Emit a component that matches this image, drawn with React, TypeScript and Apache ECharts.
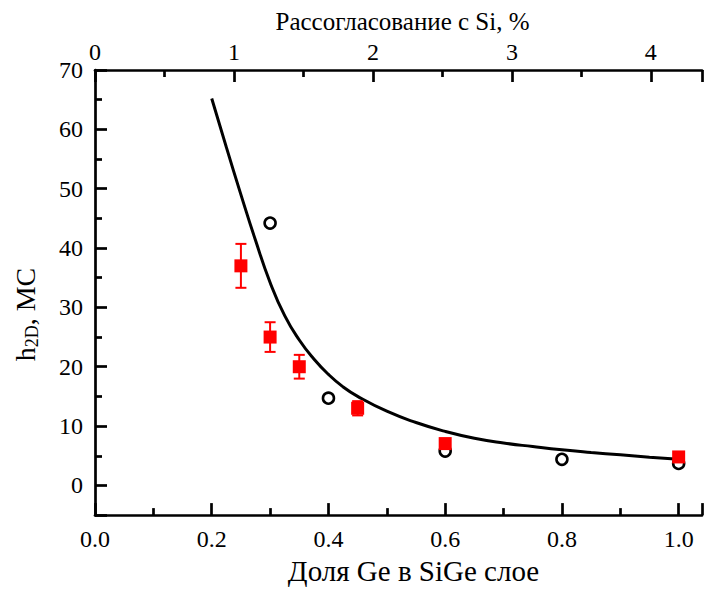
import React, { useEffect, useRef } from "react";
import * as echarts from "echarts";

// Theoretical curve h2D(x)
const curveX = [0.2, 0.225, 0.25, 0.275, 0.3, 0.325, 0.35, 0.375, 0.4, 0.425, 0.45, 0.5, 0.55, 0.6, 0.65, 0.7, 0.75, 0.8, 0.85, 0.9, 0.95, 1.0];
const curveY = [65.2, 57.0, 49.0, 41.3, 34.2, 28.6, 24.5, 21.3, 18.7, 16.6, 15.0, 12.5, 10.6, 9.1, 7.95, 7.15, 6.55, 6.0, 5.55, 5.15, 4.75, 4.4];

// Open circles
const circleX = [0.3, 0.4, 0.6, 0.8, 1.0];
const circleY = [44.2, 14.7, 5.8, 4.4, 3.7];

// Red squares with error bars
const squareX = [0.25, 0.3, 0.35, 0.45, 0.6, 1.0];
const squareY = [37.0, 25.0, 20.0, 13.0, 7.05, 4.8];
const squareErr = [3.7, 2.5, 2.0, 1.2, 0.4, 0.3];

// Tick labels
const bottomTicks = ["0.0", "0.2", "0.4", "0.6", "0.8", "1.0"];
const topTicks = ["0", "1", "2", "3", "4"];
const leftTicks = ["0", "10", "20", "30", "40", "50", "60", "70"];

const FONT = "Liberation Serif";

export default function App() {
  const ref = useRef<HTMLDivElement>(null);
  useEffect(() => {
    if (!ref.current) return;
    const chart = echarts.init(ref.current, null, { renderer: "svg" });
    const lineStyle = { color: "#000", width: 2.7 };
    const tickStyle = { color: "#000", width: 2.7 };
    const labelStyle = { color: "#000", fontFamily: FONT, fontSize: 24 };
    chart.setOption({
      animation: false,
      backgroundColor: "#fff",
      grid: { left: 95, top: 70, width: 611, height: 453, containLabel: false },
      xAxis: [
        {
          type: "value",
          position: "bottom",
          min: 0,
          max: 1.04,
          interval: 0.2,
          name: "Доля Ge в SiGe слое",
          nameLocation: "middle",
          nameGap: 38,
          nameTextStyle: { color: "#000", fontFamily: FONT, fontSize: 29, padding: [0, 0, 0, 30] },
          axisLine: { onZero: false, lineStyle },
          axisTick: { inside: true, length: 12, lineStyle: tickStyle },
          minorTick: { show: true, splitNumber: 2, length: 7, lineStyle: tickStyle },
          splitLine: { show: false },
          axisLabel: {
            ...labelStyle,
            margin: 12,
            formatter: (v: number) => {
              const s = v.toFixed(1);
              return bottomTicks.includes(s) && Math.abs(v - Number(s)) < 1e-6 ? s : "";
            },
          },
        },
        {
          type: "value",
          position: "top",
          min: 0,
          max: 4.2 * 1.04,
          interval: 1,
          name: "Рассогласование с Si, %",
          nameLocation: "middle",
          nameGap: 36,
          nameTextStyle: { color: "#000", fontFamily: FONT, fontSize: 25, padding: [0, 0, 0, 8] },
          axisLine: { onZero: false, lineStyle },
          axisTick: { inside: true, length: 12, lineStyle: tickStyle },
          minorTick: { show: true, splitNumber: 2, length: 7, lineStyle: tickStyle },
          splitLine: { show: false },
          axisLabel: {
            ...labelStyle,
            margin: 6,
            formatter: (v: number) => {
              const s = String(Math.round(v));
              return Math.abs(v - Math.round(v)) < 1e-6 && topTicks.includes(s) ? s : "";
            },
          },
        },
      ],
      yAxis: [
        {
          type: "value",
          min: -5,
          max: 70,
          show: false,
          axisLine: { onZero: false },
          splitLine: { show: false },
        },
        {
          type: "value",
          position: "left",
          inverse: true,
          min: -70,
          max: 5,
          interval: 10,
          name: "{n|h}{s|2D}{m|, MC}",
          nameLocation: "middle",
          nameGap: 54,
          nameRotate: 90,
          nameTextStyle: {
            color: "#000",
            fontFamily: FONT,
            fontSize: 28,
            rich: {
              n: { fontFamily: FONT, fontSize: 28, color: "#000" },
              s: { fontFamily: FONT, fontSize: 18, color: "#000", padding: [14, 0, 0, 0] },
              m: { fontFamily: FONT, fontSize: 28, color: "#000", padding: [0, 44, 0, 0] },
            },
          },
          axisLine: { onZero: false, lineStyle },
          axisTick: { inside: true, length: 12, lineStyle: tickStyle },
          minorTick: { show: true, splitNumber: 2, length: 7, lineStyle: tickStyle },
          splitLine: { show: false },
          axisLabel: {
            ...labelStyle,
            margin: 12,
            formatter: (v: number) => {
              const s = String(Math.abs(Math.round(v)));
              return v <= 0 && leftTicks.includes(s) ? s : "";
            },
          },
        },
      ],
      series: [
        {
          type: "line",
          xAxisIndex: 0,
          yAxisIndex: 0,
          data: curveX.map((x, i) => [x, curveY[i]]),
          smooth: 0.5,
          showSymbol: false,
          lineStyle: { color: "#000", width: 3 },
          z: 2,
        },
        {
          type: "scatter",
          xAxisIndex: 0,
          yAxisIndex: 0,
          data: circleX.map((x, i) => [x, circleY[i]]),
          symbol: "circle",
          symbolSize: 11,
          itemStyle: { color: "rgba(255,255,255,0)", borderColor: "#000", borderWidth: 2.6, opacity: 1 },
          z: 3,
        },
        {
          type: "custom",
          xAxisIndex: 0,
          yAxisIndex: 0,
          data: squareX.map((x, i) => [x, squareY[i] - squareErr[i], squareY[i] + squareErr[i]]),
          encode: { x: 0, y: [1, 2] },
          renderItem: (params: any, api: any) => {
            const x = api.value(0);
            const lo = api.coord([x, api.value(1)]);
            const hi = api.coord([x, api.value(2)]);
            const w = 5.5;
            const st = { stroke: "#ff0000", lineWidth: 2 };
            return {
              type: "group",
              children: [
                { type: "line", shape: { x1: lo[0], y1: lo[1], x2: hi[0], y2: hi[1] }, style: st },
                { type: "line", shape: { x1: lo[0] - w, y1: lo[1], x2: lo[0] + w, y2: lo[1] }, style: st },
                { type: "line", shape: { x1: hi[0] - w, y1: hi[1], x2: hi[0] + w, y2: hi[1] }, style: st },
              ],
            };
          },
          z: 4,
        },
        {
          type: "scatter",
          xAxisIndex: 0,
          yAxisIndex: 0,
          data: squareX.map((x, i) => [x, squareY[i]]),
          symbol: "rect",
          symbolSize: 13,
          itemStyle: { color: "#ff0000", opacity: 1 },
          z: 5,
        },
      ],
    });
    return () => chart.dispose();
  }, []);
  return (
    <div
      ref={ref}
      style={{ position: "fixed", left: 0, top: 0, width: 705, height: 590, background: "#fff" }}
    />
  );
}
